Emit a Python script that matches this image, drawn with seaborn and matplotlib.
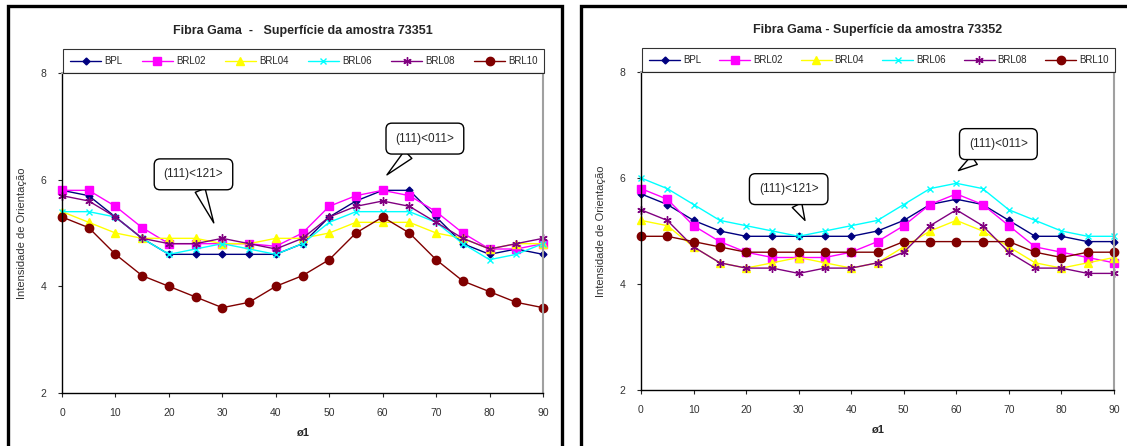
import matplotlib
matplotlib.use("Agg")
import matplotlib.pyplot as plt
from matplotlib.patches import Rectangle
import pandas as pd
import seaborn as sns

sns.set_style("white")
plt.rcParams['font.family'] = ['Liberation Sans', 'DejaVu Sans']

# phi1 angles (x axis)
phi1 = [0, 5, 10, 15, 20, 25, 30, 35, 40, 45, 50, 55, 60, 65, 70, 75, 80, 85, 90]
series_names = ["BPL", "BRL02", "BRL04", "BRL06", "BRL08", "BRL10"]

# sample 73351 (left)
bpl_73351 = [5.8, 5.7, 5.3, 4.9, 4.6, 4.6, 4.6, 4.6, 4.6, 4.8, 5.3, 5.6, 5.8, 5.8, 5.3, 4.8, 4.6, 4.7, 4.6]
brl02_73351 = [5.8, 5.8, 5.5, 5.1, 4.8, 4.8, 4.8, 4.8, 4.75, 5.0, 5.5, 5.7, 5.8, 5.7, 5.4, 5.0, 4.7, 4.7, 4.8]
brl04_73351 = [5.4, 5.2, 5.0, 4.9, 4.9, 4.9, 4.8, 4.8, 4.9, 4.9, 5.0, 5.2, 5.2, 5.2, 5.0, 4.9, 4.7, 4.8, 4.8]
brl06_73351 = [5.4, 5.4, 5.3, 4.9, 4.6, 4.7, 4.8, 4.7, 4.6, 4.8, 5.2, 5.4, 5.4, 5.4, 5.2, 4.8, 4.5, 4.6, 4.8]
brl08_73351 = [5.7, 5.6, 5.3, 4.9, 4.8, 4.8, 4.9, 4.8, 4.7, 4.9, 5.3, 5.5, 5.6, 5.5, 5.2, 4.9, 4.7, 4.8, 4.9]
brl10_73351 = [5.3, 5.1, 4.6, 4.2, 4.0, 3.8, 3.6, 3.7, 4.0, 4.2, 4.5, 5.0, 5.3, 5.0, 4.5, 4.1, 3.9, 3.7, 3.6]

# sample 73352 (right)
bpl_73352 = [5.7, 5.5, 5.2, 5.0, 4.9, 4.9, 4.9, 4.9, 4.9, 5.0, 5.2, 5.5, 5.6, 5.5, 5.2, 4.9, 4.9, 4.8, 4.8]
brl02_73352 = [5.8, 5.6, 5.1, 4.8, 4.6, 4.5, 4.5, 4.5, 4.6, 4.8, 5.1, 5.5, 5.7, 5.5, 5.1, 4.7, 4.6, 4.5, 4.4]
brl04_73352 = [5.2, 5.1, 4.7, 4.4, 4.3, 4.4, 4.5, 4.4, 4.3, 4.4, 4.7, 5.0, 5.2, 5.0, 4.7, 4.4, 4.3, 4.4, 4.5]
brl06_73352 = [6.0, 5.8, 5.5, 5.2, 5.1, 5.0, 4.9, 5.0, 5.1, 5.2, 5.5, 5.8, 5.9, 5.8, 5.4, 5.2, 5.0, 4.9, 4.9]
brl08_73352 = [5.4, 5.2, 4.7, 4.4, 4.3, 4.3, 4.2, 4.3, 4.3, 4.4, 4.6, 5.1, 5.4, 5.1, 4.6, 4.3, 4.3, 4.2, 4.2]
brl10_73352 = [4.9, 4.9, 4.8, 4.7, 4.6, 4.6, 4.6, 4.6, 4.6, 4.6, 4.8, 4.8, 4.8, 4.8, 4.8, 4.6, 4.5, 4.6, 4.6]

colors = ["#000080", "#FF00FF", "#FFFF00", "#00FFFF", "#800080", "#800000"]
markers = ["D", "s", "^", "x", (6, 2, 0), "o"]
msizes = [3.5, 6, 6, 5, 6, 6]

left_data = [bpl_73351, brl02_73351, brl04_73351, brl06_73351, brl08_73351, brl10_73351]
right_data = [bpl_73352, brl02_73352, brl04_73352, brl06_73352, brl08_73352, brl10_73352]

fig = plt.figure(figsize=(11.27, 4.46), dpi=100)

# black panel frames
fig.patches.append(Rectangle((8 / 1127, -0.05), (562 - 8) / 1127, 1.05 - 6 / 446,
                             transform=fig.transFigure, fill=False, ec="black", lw=2.4))
fig.patches.append(Rectangle((581 / 1127, -0.05), 0.6, 1.05 - 6 / 446,
                             transform=fig.transFigure, fill=False, ec="black", lw=2.4))

ax1 = fig.add_axes([62 / 1127, (446 - 393) / 446, (543 - 62) / 1127, (393 - 73) / 446])
ax2 = fig.add_axes([641 / 1127, (446 - 390) / 446, (1114 - 641) / 1127, (390 - 72) / 446])


def draw_panel(ax, data, title, notes):
    for name, vals, c, m, ms in zip(series_names, data, colors, markers, msizes):
        df = pd.DataFrame({"phi1": phi1, "val": vals})
        sns.lineplot(data=df, x="phi1", y="val", ax=ax, color=c, marker=m,
                     markersize=ms, mec=c, mfc=c, mew=1.0, lw=1.0, label=name,
                     clip_on=False)
    ax.set_xlim(0, 90)
    ax.set_ylim(2, 8)
    ax.set_xticks(range(0, 91, 10))
    ax.set_yticks([2, 4, 6, 8])
    ax.tick_params(axis="both", direction="out", length=3, width=0.8,
                   labelsize=7.5, labelcolor="#333333", pad=8, bottom=True, left=True)
    for s in ["left", "bottom"]:
        ax.spines[s].set_color("black")
        ax.spines[s].set_linewidth(1.0)
    for s in ["top", "right"]:
        ax.spines[s].set_color("#a0a0a0")
        ax.spines[s].set_linewidth(1.5)
    ax.set_xlabel("ø1", fontsize=8, fontweight="bold", labelpad=7)
    ax.set_ylabel("Intensidade de Orientação", fontsize=8, color="#333333", labelpad=10)
    ax.set_title(title, fontsize=9, fontweight="bold", pad=28)
    leg = ax.legend(loc="lower left", bbox_to_anchor=(0.003, 1.0, 1.0, 0.072), mode="expand",
                    ncol=6, fontsize=7, frameon=True, fancybox=False, edgecolor="black",
                    borderaxespad=0, handlelength=3.2, handletextpad=0.3, columnspacing=1.0,
                    borderpad=0.7)
    leg.get_frame().set_linewidth(0.8)
    for txt, tip, box in notes:
        ax.annotate(txt, xy=tip, xytext=box, ha="center", va="center", fontsize=8.5,
                    bbox=dict(boxstyle="round,pad=0.8,rounding_size=0.5", fc="white",
                              ec="black", lw=1.0),
                    arrowprops=dict(arrowstyle="wedge,tail_width=0.9", fc="white", ec="black",
                                    lw=1.0, shrinkA=0, shrinkB=0))


draw_panel(ax1, left_data, "Fibra Gama  -   Superfície da amostra 73351",
           [("(111)<121>", (28.4, 5.19), (24.6, 6.1)),
            ("(111)<011>", (60.8, 6.09), (67.9, 6.77))])
draw_panel(ax2, right_data, "Fibra Gama - Superfície da amostra 73352",
           [("(111)<121>", (31.2, 5.2), (28.1, 5.79)),
            ("(111)<011>", (60.4, 6.14), (68.0, 6.64))])

fig.savefig("out.png", dpi=100)
